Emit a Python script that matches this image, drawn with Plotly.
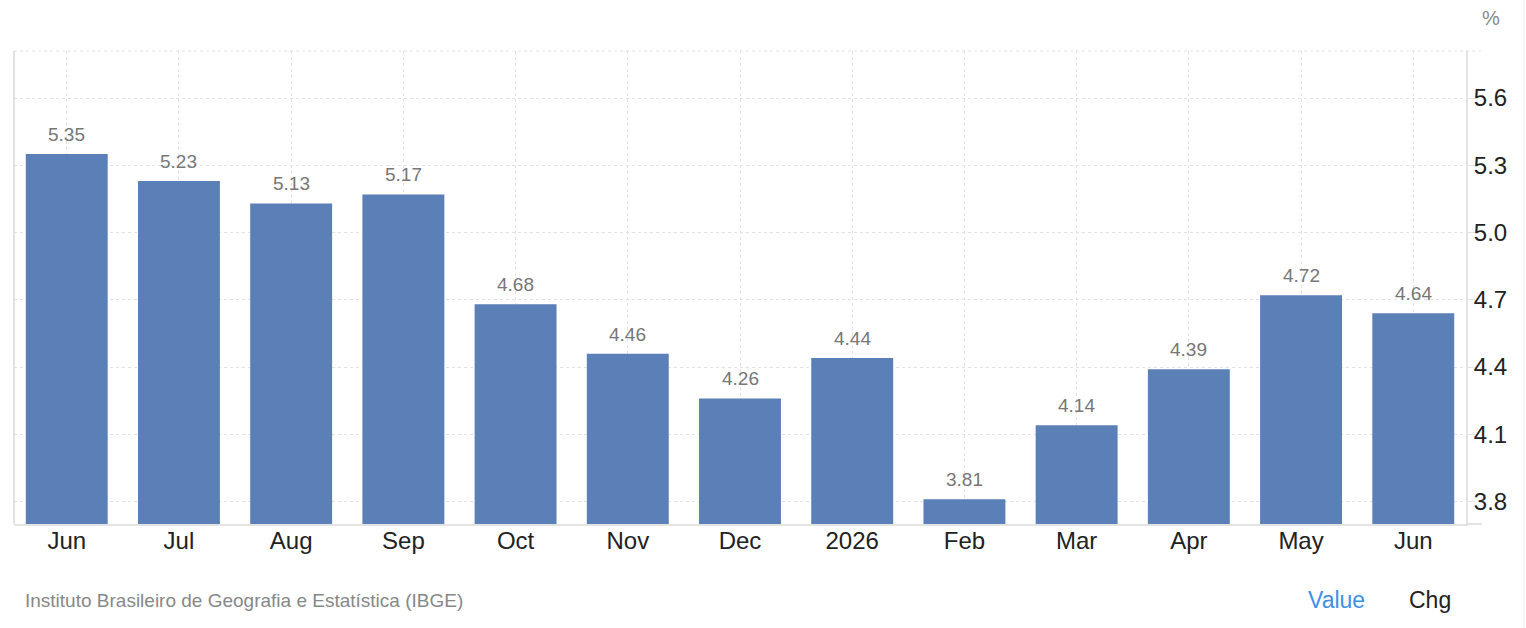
import plotly.graph_objects as go

categories = ["Jun", "Jul", "Aug", "Sep", "Oct", "Nov", "Dec", "2026", "Feb", "Mar", "Apr", "May", "Jun "]
values = [5.35, 5.23, 5.13, 5.17, 4.68, 4.46, 4.26, 4.44, 3.81, 4.14, 4.39, 4.72, 4.64]
tick_vals = [3.8, 4.1, 4.4, 4.7, 5.0, 5.3, 5.6]
tick_text = ["3.8", "4.1", "4.4", "4.7", "5.0", "5.3", "5.6"]

W, H = 1526, 628
L, R, T, B = 14, 60, 51, 104
pw, ph = W - L - R, H - T - B

def px_x(x):
    return (x - L) / pw

def px_y(y):
    return (H - B - y) / ph

FONT = "Liberation Sans, Arial, Helvetica, sans-serif"
GRID = "#e3e3e3"
xs = list(range(len(categories)))

fig = go.Figure()
fig.add_trace(go.Bar(
    x=xs,
    y=values,
    marker=dict(color="#5b7fb7", line=dict(width=0)),
    width=0.73,
    hoverinfo="skip",
))

annotations = [
    dict(x=x, y=v, xref="x", yref="y", text=f"{v:.2f}", showarrow=False,
         xanchor="center", yanchor="bottom", yshift=7,
         font=dict(family=FONT, size=19, color="#777777"))
    for x, v in zip(xs, values)
]
annotations += [
    dict(text="%", xref="paper", yref="paper", x=px_x(1491), y=px_y(18),
         xanchor="center", yanchor="middle", showarrow=False,
         font=dict(family=FONT, size=20, color="#888888")),
    dict(text="Instituto Brasileiro de Geografia e Estatística (IBGE)", xref="paper", yref="paper",
         x=px_x(23), y=px_y(600), xanchor="left", yanchor="middle", showarrow=False,
         font=dict(family=FONT, size=19, color="#888888")),
    dict(text="Value", xref="paper", yref="paper", x=px_x(1336), y=px_y(600),
         xanchor="center", yanchor="middle", showarrow=False,
         font=dict(family=FONT, size=23, color="#3d8fe8")),
    dict(text="Chg", xref="paper", yref="paper", x=px_x(1430), y=px_y(600),
         xanchor="center", yanchor="middle", showarrow=False,
         font=dict(family=FONT, size=23, color="#222222")),
]

fig.update_layout(
    width=W, height=H,
    margin=dict(l=L, r=R, t=T, b=B, pad=0),
    paper_bgcolor="white",
    plot_bgcolor="white",
    showlegend=False,
    font=dict(family=FONT),
    xaxis=dict(
        range=[-0.47, len(categories) - 1 + 0.47],
        tickmode="array",
        tickvals=xs,
        ticktext=[c.strip() for c in categories],
        tickfont=dict(family=FONT, size=24, color="#222222"),
        showgrid=True, gridcolor=GRID, griddash="dot", gridwidth=1,
        showline=True, linecolor=GRID, linewidth=2,
        ticks="", ticklabelstandoff=-6, zeroline=False, fixedrange=True,
    ),
    yaxis=dict(
        side="right",
        range=[3.70, 5.81],
        tickmode="array",
        tickvals=tick_vals,
        ticktext=tick_text,
        tickfont=dict(family=FONT, size=24, color="#222222"),
        showgrid=True, gridcolor=GRID, griddash="dot", gridwidth=1,
        showline=True, linecolor=GRID, linewidth=2,
        ticks="outside", ticklen=7, tickcolor=GRID, tickwidth=1,
        ticklabelstandoff=-6, zeroline=False, fixedrange=True,
    ),
    shapes=[
        dict(type="line", xref="paper", yref="paper", x0=0, x1=px_x(1482), y0=1, y1=1,
             line=dict(color=GRID, width=1, dash="dot")),
        dict(type="line", xref="paper", yref="paper", x0=0, x1=0, y0=0, y1=1,
             line=dict(color=GRID, width=2)),
        dict(type="line", xref="paper", yref="paper", x0=1, x1=px_x(1482), y0=0, y1=0,
             line=dict(color=GRID, width=2)),
        dict(type="line", xref="paper", yref="paper", x0=px_x(1524), x1=px_x(1524),
             y0=px_y(0), y1=px_y(628), line=dict(color="#ececec", width=1)),
    ],
    annotations=annotations,
)

fig.write_html("out.html", config={"displayModeBar": False})
